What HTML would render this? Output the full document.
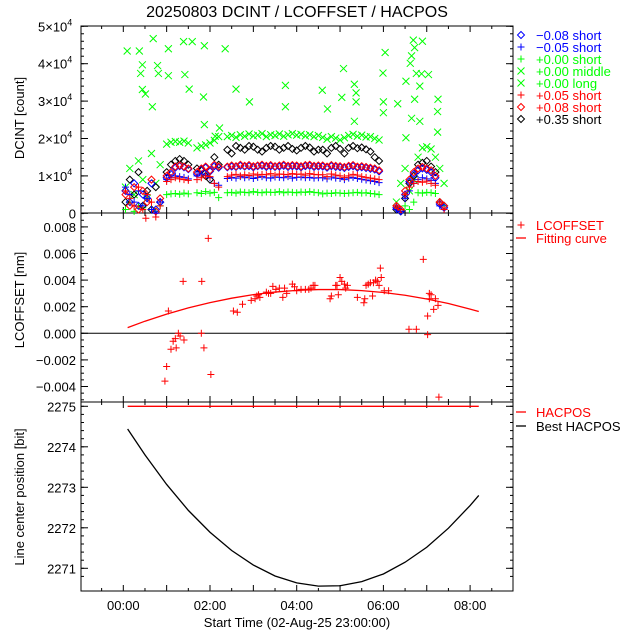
<!DOCTYPE html>
<html><head><meta charset="utf-8"><style>
html,body{margin:0;padding:0;background:#fff}
svg{display:block;font-family:"Liberation Sans",sans-serif}
</style></head><body>
<svg id="c" width="640" height="640" viewBox="0 0 640 640">
<text x="297" y="17" font-size="16" text-anchor="middle">20250803 DCINT / LCOFFSET / HACPOS</text>
</svg>
<script>
// ---------- data ----------
const times = [0.05,0.15,0.25,0.35,0.45,0.55,0.65,0.75,0.85, 1.0,1.1,1.2,1.3,1.4,1.5, 1.7,1.8,1.9,2.0,2.1,2.2,
 2.4,2.5,2.6,2.7,2.8,2.9,3.0,3.1,3.2,3.3,3.4,3.5,3.6,3.7,3.8,3.9,4.0,4.1,4.2,4.3,4.4,4.5,
 4.6,4.7,4.8,4.9,5.0,5.1, 5.2,5.3,5.4,5.5,5.6,5.7,5.8,5.9, 6.3,6.4,6.5,6.6,6.7,6.8,6.9,7.0,7.1,7.2,7.3,7.4];
const greenLong = [7,12,5,14,9,4,16,8,13, 18.5,19,19.2,19,19.3,18.8, 17.5,18,18.3,18.8,19.5,20.5,
 20.5,20.8,20.3,21,20.6,21.2,20.7,20.9,21.3,20.5,21,20.8,21.2,20.6,21,21.3,20.9,21.1,20.7,21,20.5,20.8,
 20.3,19.8,20.5,20.1,19.6,20.2, 20.8,21.1,20.6,20.9,20.4,20.5,20,19.6, 3,8,12,6,9,15,17.5,17.8,17.2,15,12,8];
const greenShort = [1,3,0.5,2,1.5,4,1,0.5,2, 5,5.2,5.3,5.1,5.4,5.2, 5.5,5.3,5.8,5.4,5.6,4.2,
 5.5,5.6,5.4,5.7,5.6,5.5,5.8,5.6,5.5,5.7,5.6,5.6,5.8,5.5,5.7,5.6,5.5,5.7,5.6,5.8,5.6,5.5,
 5.2,5.4,5.3,5.5,5.4,5.3, 5.4,5.5,5.6,5.4,5.5,5.3,5.2,5.0, 1,0.5,2,1,3,5.5,5.4,5.6,5.5,5.3,3,2];
const blackDia = [3,9,5,11,2,6,1,7,3, 11,13,14,14.5,14,13, 12,11.5,10,9,15,13,
 17,16,18,17.5,17,18,17.8,17,16.5,17.5,18,17.8,17,17.5,18,17.2,16.8,17.5,18,17.6,16.5,17,
 17,16,17.5,18,17.2,16, 17.5,18,17.4,17.6,17.1,16.5,15,14, 1,0.5,4,8,10,13,13.5,14,12.5,11,3,2];
const redDia = [5,2,7,1,6,3,9,0.5,4, 10,11,12.5,12.8,12.5,12, 11,12,12.5,11.5,13,12.5,
 12.5,12.8,12.6,13,12.7,12.9,12.6,12.8,13,12.7,12.9,12.6,12.8,13,12.7,12.9,12.8,12.6,12.9,13,12.7,12.8,
 12.8,12.5,12.9,12.7,12.6,12.4, 12.7,12.9,12.5,12.6,12.4,12.2,12,11.5, 2,1,6,9,11,12,12.4,12,11.5,10,3,2];
const blueDia = [6,3,8,2,5,4,8,1,3, 9.5,10.5,12.2,12.6,12.3,11.8, 10.5,11.8,12.2,11.2,12.6,12.2,
 12.3,12.5,12.4,12.7,12.5,12.6,12.3,12.6,12.7,12.4,12.6,12.4,12.5,12.7,12.4,12.6,12.5,12.3,12.6,12.7,12.4,12.5,
 12.5,12.2,12.6,12.4,12.3,12.1, 12.4,12.6,12.2,12.3,12.1,11.9,11.7,11.2, 1.5,0.5,5,8.5,10.5,11.5,12,11.6,11,9.5,2.5,1.5];
const redPlus = [6,4,2,7,1,5,3,-1,2, 8.5,9,9.5,9.2,9,8.8, 9,9.5,10,9.8,8,7,
 9.8,10.2,10.4,10,10.3,10.1,10.5,10.2,10.4,10.3,10.6,10.2,10.5,10.4,10.3,10.6,10.4,10.5,10.2,10.6,10.4,10.3,
 10.3,9.8,10.5,10.2,10,9.6, 10,10.4,10.2,9.8,9.6,9.4,9.2,9, 2,1,5,7,8,8.5,8.3,8.6,8,7.5,3,1];
const bluePlus = [7,5,3,6,2,4,1,0,3, 9,9.5,10,9.8,9.6,9.2, 10,10.5,10.2,9.5,8,7.5,
 9.3,9.6,9.4,9.8,9.5,9.7,9.3,9.6,9.8,9.5,9.4,9.7,9.6,9.5,9.8,9.4,9.6,9.7,9.5,9.6,9.4,9.5,
 9.5,9.2,9.7,9.4,9.3,9, 9.4,9.6,9.3,9.1,8.9,8.7,8.5,8.2, 1,0.5,4,6,8,9,9.5,9.2,8.8,8,2,1];
const midT = [0.09,0.37,0.44,0.40,0.44,0.51,0.67,0.69,0.79,0.81,1.04,1.04,1.39,1.42,1.52,1.59,1.85,1.87,1.87,2.35,2.6,2.91,3.74,3.74,4.59,4.71,5.08,5.04,5.33,5.37,5.37,5.33,5.99,6.0,6.0,6.04,6.33,6.52,6.62,6.65,6.69,6.72,6.72,6.76,6.84,6.88,6.9,7.04,7.26,7.25,7.25,2.12,2.22,6.65,6.52,6.84];
const midV = [43.4,43.4,39.7,37.4,33.1,31.9,28.5,46.7,39.5,37.4,44.0,36.8,45.9,37.1,33.2,45.9,31.1,44.8,23.7,44.0,33.2,29.8,34.2,28.5,32.9,27.9,38.7,31.0,34.5,32.2,29.8,24.6,37.5,29.8,26.9,43.0,29.3,35.3,40.1,42.1,46.3,44.3,30.5,37.4,34.0,37.3,46.0,37.1,30.5,27.2,21.7,20.6,22.8,25.4,20.2,24.6];
const lcT = [0.52,1.96,1.38,1.81,1.04,2.54,2.63,2.75,2.95,3.04,3.08,3.12,3.15,3.3,3.35,3.4,3.45,3.52,3.6,3.68,3.72,3.77,3.9,3.95,4.0,4.1,4.2,4.28,4.33,4.38,4.42,4.77,4.8,4.9,4.93,5.0,5.04,5.1,5.13,5.17,4.96,5.4,5.55,5.57,5.6,5.65,5.7,5.75,5.77,5.82,5.86,5.9,5.93,5.95,6.02,6.12,6.59,6.76,6.92,7.02,7.02,7.06,7.1,7.06,7.2,7.16,7.26,7.28,0.96,1.0,1.1,1.15,1.2,1.22,1.27,1.31,1.4,1.8,1.86,2.02];
const lcV = [0.00865,0.00714,0.0039,0.0039,0.00168,0.00168,0.00158,0.00218,0.00248,0.0026,0.0028,0.0029,0.0027,0.0031,0.003,0.0030,0.00353,0.0033,0.0034,0.0027,0.0034,0.003,0.0037,0.0035,0.0032,0.0033,0.0033,0.0033,0.0034,0.0036,0.0036,0.0026,0.0028,0.0036,0.0036,0.0042,0.0039,0.0037,0.0034,0.0036,0.0029,0.0027,0.0023,0.0026,0.0036,0.0037,0.0038,0.0028,0.0038,0.0040,0.0039,0.0036,0.0049,0.0042,0.0032,0.0032,0.0003,0.0003,0.00556,0.0013,-0.0001,0.003,0.0029,0.0026,0.0026,0.0018,0.0021,-0.0048,-0.0036,-0.0025,-0.0012,-0.0006,-0.0004,-0.0011,0.0,-0.0002,-0.0005,0.0,-0.0011,-0.0031];
const fitT = [0.1,0.5,1,1.5,2,2.5,3,3.5,4,4.5,5,5.5,6,6.5,7,7.5,8,8.2];
const fitV = [0.00043,0.00091,0.00144,0.00191,0.00231,0.00264,0.00291,0.0031,0.00323,0.00329,0.00329,0.00321,0.00307,0.00286,0.00258,0.00224,0.00182,0.00164];
const hacT = [0.1,8.2];
const hacV = [2275,2275];
const bestV = [2274.44,2273.80,2273.07,2272.43,2271.89,2271.44,2271.08,2270.81,2270.64,2270.56,2270.57,2270.67,2270.86,2271.15,2271.52,2271.99,2272.55,2272.80];
const xTickLabels = ['00:00','02:00','04:00','06:00','08:00'];
const topTicks = [0,1,2,3,4,5];
const midTicks = [0.008,0.006,0.004,0.002,0.000,-0.002,-0.004];
const botTicks = [2275,2274,2273,2272,2271];

// ---------- axes ----------
const L=81,R=513,P1=26,P2=213,P3=402,P4=591;
const X=t=>123.3+t*43.35;
const Y1=v=>213.3-v*3.74;           // v in thousands
const Y2=v=>333.3-v*13300;
const Y3=v=>406.3+(2275-v)*40.5;
const svg=document.getElementById('c');
const NS='http://www.w3.org/2000/svg';
function mk(tag,a,parent){const e=document.createElementNS(NS,tag);for(const k in a)e.setAttribute(k,a[k]);(parent||svg).appendChild(e);return e;}
function txt(x,y,s,sz,anchor,fill){const e=mk('text',{x:x,y:y,'font-size':sz,'text-anchor':anchor||'start',fill:fill||'#000'});e.textContent=s;return e;}

// frames
[[P1,P2,'top-panel'],[P2,P3,'middle-panel'],[P3,P4,'bottom-panel']].forEach(p=>{
  const r=mk('rect',{x:L,y:p[0],width:R-L,height:p[1]-p[0],fill:'none',stroke:'#000','stroke-width':1});
  
  
  for(let h=-0.5;h<=9;h+=0.5){const x=X(h);if(x<L||x>R)continue;const len=(h%1===0)?6:3;
    mk('line',{x1:x,y1:p[0],x2:x,y2:p[0]+len,stroke:'#000'});mk('line',{x1:x,y1:p[1],x2:x,y2:p[1]-len,stroke:'#000'});}
});
function yticks(vals,Yf,minorStep,lo,hi){
  for(let v=lo;v<=hi+1e-9;v+=minorStep){const y=Yf(v);if(y<P1||y>P4)continue;mk('line',{x1:L,y1:y,x2:L+3,y2:y,stroke:'#000'});mk('line',{x1:R,y1:y,x2:R-3,y2:y,stroke:'#000'});}
  vals.forEach(v=>{const y=Yf(v);mk('line',{x1:L,y1:y,x2:L+7,y2:y,stroke:'#000'});mk('line',{x1:R,y1:y,x2:R-7,y2:y,stroke:'#000'});});
}
yticks(topTicks.map(k=>k*10),Y1,2,0,50);
yticks(midTicks,Y2,0.0005,-0.005,0.009);
yticks(botTicks,Y3,0.2,2270.8,2275);
// tick labels
topTicks.forEach(k=>{const y=Y1(k*10);
  if(k===0){const e=txt(76,y+5,'0',13,'end');}
  else{const e=mk('text',{x:38,y:y+5,'font-size':13});
    e.textContent=k+'×10';const s=mk('tspan',{dy:-6,'font-size':9},e);s.textContent='4';}
});
midTicks.forEach(v=>{const e=txt(76,Y2(v)+5,v.toFixed(3).replace('-','−'),13,'end');});
botTicks.forEach(v=>{const e=txt(76,Y3(v)+5,String(v),13,'end');});
xTickLabels.forEach((s,i)=>{const e=txt(X(i*2),610,s,13,'middle');});
let e;
e=txt(297,627,'Start Time (02-Aug-25 23:00:00)',13,'middle');
e=txt(0,0,'DCINT [count]',13,'middle');e.setAttribute('transform','translate(24,118) rotate(-90)');
e=txt(0,0,'LCOFFSET [nm]',13,'middle');e.setAttribute('transform','translate(24,300) rotate(-90)');
e=txt(0,0,'Line center position [bit]',13,'middle');e.setAttribute('transform','translate(24,497) rotate(-90)');

// ---------- markers ----------
function marker(kind,x,y,c,parent){const s=3.5;
  if(kind==='d')return mk('path',{d:`M${x},${y-s}L${x+s},${y}L${x},${y+s}L${x-s},${y}Z`,fill:'none',stroke:c},parent);
  if(kind==='p')return mk('path',{d:`M${x-s},${y}H${x+s}M${x},${y-s}V${y+s}`,fill:'none',stroke:c},parent);
  return mk('path',{d:`M${x-s},${y-s}L${x+s},${y+s}M${x+s},${y-s}L${x-s},${y+s}`,fill:'none',stroke:c},parent);
}
function series(name,vals,kind,c){const gg=mk('g',{});
  vals.forEach((v,i)=>{if(v==null)return;const y=Math.min(Y1(v),P2+5);marker(kind,X(times[i]),y,c,gg);});}
series('series-plus000-long',greenLong,'x','#00ff00');
series('series-plus000-short',greenShort,'p','#00ff00');
const gm=mk('g',{});
midT.forEach((t,i)=>marker('x',X(t),Y1(midV[i]),'#00ff00',gm));
series('series-plus035-short',blackDia,'d','#000');
series('series-minus008-short',blueDia,'d','#0000ff');
series('series-plus008-short',redDia,'d','#ff0000');
series('series-minus005-short',bluePlus,'p','#0000ff');
series('series-plus005-short',redPlus,'p','#ff0000');

// middle
mk('line',{x1:L,y1:Y2(0),x2:R,y2:Y2(0),stroke:'#000'});
const gl=mk('g',{});
lcT.forEach((t,i)=>{const y=Y2(lcV[i]);if(y<P2-3||y>P3)return;marker('p',X(t),y,'#ff0000',gl);});
e=mk('polyline',{points:fitT.map((t,i)=>X(t)+','+Y2(fitV[i])).join(' '),fill:'none',stroke:'#ff0000','stroke-width':1.3});

// bottom
e=mk('polyline',{points:hacT.map((t,i)=>X(t)+','+Y3(hacV[i])).join(' '),fill:'none',stroke:'#ff0000','stroke-width':1.3});

e=mk('polyline',{points:fitT.map((t,i)=>X(t)+','+Y3(bestV[i])).join(' '),fill:'none',stroke:'#000','stroke-width':1.3});


// ---------- legends ----------
const leg=[['d','#000','−0.08 short'],['p','#0000ff','−0.05 short'],['p','#00ff00','+0.00 short'],['x','#00ff00','+0.00 middle'],['x','#00ff00','+0.00 long'],['p','#ff0000','+0.05 short'],['d','#ff0000','+0.08 short'],['d','#000','+0.35 short']];
const tc=['#0000ff','#0000ff','#00ff00','#00ff00','#00ff00','#ff0000','#ff0000','#000'];
leg.forEach((l,i)=>{const y=35+i*12;const gg=mk('g',{});
  marker(l[0],521,y,i===0?'#0000ff':l[1],gg);gg.appendChild(txt(536,y+5,l[2],13,'start',tc[i]));});
function lineLeg(y,c,label,kind){const gg=mk('g',{});
  if(kind==='p')marker('p',521,y,c,gg);else mk('line',{x1:516,y1:y,x2:526,y2:y,stroke:c,'stroke-width':1.3},gg);
  gg.appendChild(txt(536,y+5,label,13,'start',c));}
lineLeg(225,'#ff0000','LCOFFSET','p');
lineLeg(238,'#ff0000','Fitting curve');
lineLeg(412,'#ff0000','HACPOS');
lineLeg(426,'#000','Best HACPOS');
</script>
</body></html>
